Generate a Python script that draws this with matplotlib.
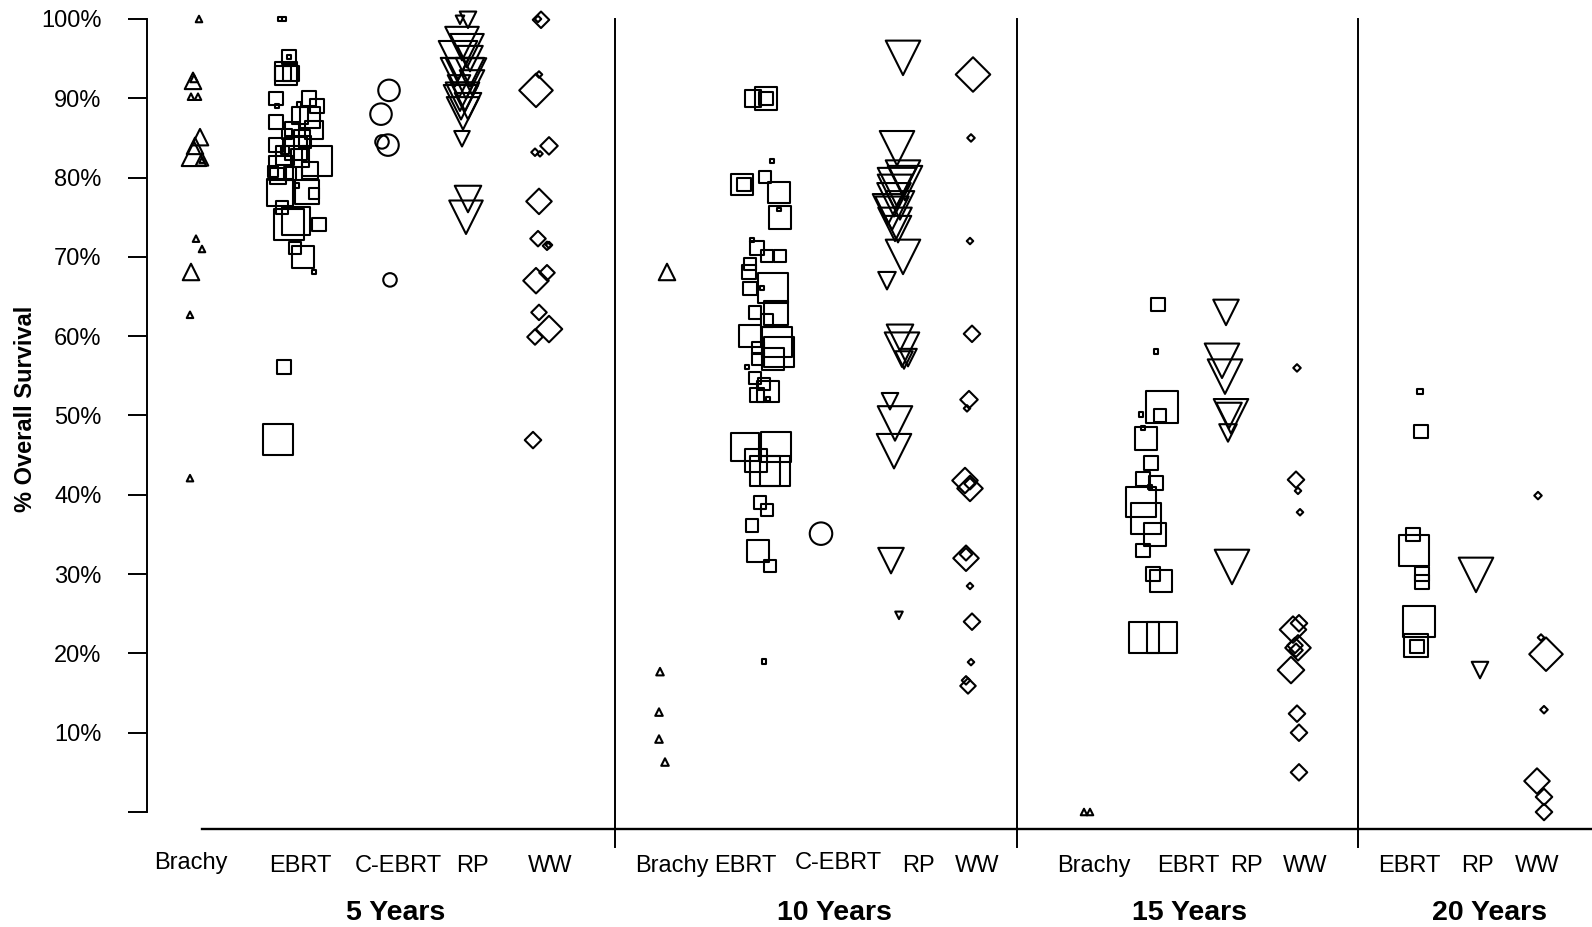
import numpy as np
import matplotlib.pyplot as plt

plt.rcParams['font.family'] = ['Liberation Sans', 'DejaVu Sans']

# ---- survival (%) for each study, grouped by follow-up and treatment ----
surv_5y_brachy = [100, 92.2, 92.5, 90.2, 90.2, 85.1, 84, 83, 82.3, 82.2, 72.3, 71, 68.1, 62.7, 42.1]
surv_5y_ebrt = [100, 100, 95.2, 95.2, 93.1, 93.1, 93.1, 90, 89, 90, 89, 89.2, 87.6, 87, 86.1, 86,
                84.1, 83.7, 85, 85.5, 82.1, 81.2, 80.2, 78.1, 78.2, 78, 76.2, 74.1, 74.5, 74.1,
                71.1, 70, 68.1, 56.1, 47, 82.5, 80.5, 83.5, 84.5, 79,
                82.8, 87.8, 80.8, 80.9]
surv_5y_cebrt = [91, 88, 84.1, 84.5, 67.1]
surv_5y_rp = [99.9, 99.9, 96.9, 96, 95, 93.3, 93.3, 90.2, 90.2, 88.1, 89, 91.5, 92, 84.9, 77.3, 75,
              94.8, 92.5, 89.5]
surv_5y_ww = [99.9, 100, 93, 91, 84, 83.2, 83, 77, 72.3, 71.4, 71.5, 67, 68, 63, 60.9, 59.9, 46.9]

surv_10y_brachy = [68.1, 17.7, 12.6, 9.2, 6.3]
surv_10y_ebrt = [90, 90, 90, 82.1, 79.1, 79.1, 80.1, 78.1, 75, 76, 72.1, 71.1, 70.1, 70.1, 69.1,
                 68.1, 66.1, 66.1, 66, 63, 62.9, 62, 60, 59.3, 58, 58.5, 57.1, 57.1, 56.1, 54.7,
                 54, 53, 52.6, 52.1, 46, 46, 44.3, 43, 43, 39, 38.1, 36.1, 32.9, 31, 19]
surv_10y_cebrt = [35.1]
surv_10y_rp = [95.1, 83.7, 80, 79.3, 78.2, 77.2, 75.5, 74.1, 76.5, 73.5, 70, 67, 59.8, 58.3, 57,
               57.3, 51.8, 49, 45.5, 31.7, 24.8, 76, 78.8]
surv_10y_ww = [93, 85, 72, 60.3, 52, 50.9, 41.8, 40.8, 41.4, 32, 32.5, 28.5, 24, 18.9, 15.9, 16.6]

surv_15y_brachy = [0, 0]
surv_15y_ebrt = [64, 58.1, 51.1, 50, 50.1, 47.1, 48.4, 44, 42, 41.5, 41, 39.1, 37, 35, 33, 30,
                 29.1, 22, 22]
surv_15y_rp = [63, 56.9, 54.9, 49.9, 50, 47.8, 30.9]
surv_15y_ww = [56, 41.9, 40.5, 37.8, 23.8, 23, 20.7, 21, 17.9, 20.4, 12.4, 10, 5]

surv_20y_ebrt = [53, 48, 35, 33, 30, 29, 24, 21, 20.9]
surv_20y_rp = [29.9, 17.9]
surv_20y_ww = [39.9, 22, 19.9, 12.9, 3.9, 1.9, 0]

# symbol width of each study (px), scaled by study size
size_5y_brachy = [8, 18, 9, 8, 8, 18, 18, 26, 14, 7, 8, 8, 18, 8, 8]
size_5y_ebrt = [6, 6, 15, 5, 24, 17, 17, 15, 6, 16, 15, 6, 22, 15, 15, 20,
                15, 24, 18, 12, 32, 25, 17, 28, 25, 12, 14, 32, 30, 15,
                14, 23, 6, 15, 32, 20, 14, 10, 14, 6,
                20, 18, 12, 18]
size_5y_cebrt = [23, 23, 23, 15, 15]
size_5y_rp = [18, 10, 35, 35, 27, 30, 30, 30, 30, 34, 28, 24, 26, 17, 28, 35,
              40, 42, 36]
size_5y_ww = [18, 8, 8, 35, 19, 9, 7, 27, 17, 10, 8, 27, 17, 17, 28, 17, 18]

size_10y_brachy = [18, 9, 9, 9, 9]
size_10y_ebrt = [18, 24, 15, 5, 23, 15, 14, 23, 24, 5, 5, 15, 13, 14, 14,
                 15, 31, 5, 15, 14, 26, 14, 23, 31, 31, 13, 13, 24, 5, 13,
                 14, 23, 16, 5, 30, 31, 24, 32, 31, 14, 14, 14, 24, 14, 6]
size_10y_cebrt = [24]
size_10y_rp = [36, 36, 36, 36, 36, 35, 35, 35, 30, 28, 36, 19, 28, 36, 19,
               19, 18, 36, 36, 27, 9, 32, 40]
size_10y_ww = [36, 9, 8, 18, 19, 8, 27, 27, 13, 27, 14, 8, 18, 8, 17, 10]

size_15y_brachy = [8, 8]
size_15y_ebrt = [15, 6, 33, 14, 6, 24, 6, 15, 15, 15, 6, 31, 32, 24, 15, 15, 24, 32, 32]
size_15y_rp = [27, 36, 36, 36, 27, 19, 36]
size_15y_ww = [9, 18, 8, 8, 18, 28, 27, 17, 28, 15, 18, 18, 18]

size_20y_ebrt = [7, 15, 15, 32, 15, 15, 33, 25, 15]
size_20y_rp = [36, 18]
size_20y_ww = [9, 8, 35, 9, 27, 18, 18]

# horizontal jitter of each study around its column
jit_5y_brachy = [3, -3, -2, -5, 2, 4, -1, -2, 6, 6, 0, 6, -5, -6, -6]
jit_5y_ebrt = [-16, -12, -7, -7, -10, -13, -5, -20, -19, 13, 21, 3, 14, -20, -4, 18,
               -20, 0, 6, -9, 21, -15, -18, -16, 11, 18, -14, -7, 0, 23,
               -1, 7, 18, -12, -18, 4, -6, -11, 9, 1,
               -11, 4, -23, 14]
jit_5y_cebrt = [2, -6, 1, -5, 3]
jit_5y_rp = [3, -5, -3, 2, 5, -10, 5, -5, 0, -2, 3, -6, 7, -3, 3, 1,
             -7, 1, -4]
jit_5y_ww = [0, -3, -2, -5, 8, -6, -1, -2, -3, 6, 8, -5, 6, -2, 8, -6, -8]

jit_10y_brachy = [5, -2, -3, -3, 3]
jit_10y_ebrt = [-10, 3, 3, 9, -21, -19, 2, 16, 17, 16, -11, -6, 4, 17, -13,
                -14, 10, -1, -13, -8, 13, 4, -13, 14, 16, -5, -5, 10, -16, -8,
                1, 5, -6, 5, -18, 13, -7, 2, 12, -3, 4, -11, -5, 7, 1]
jit_10y_cebrt = [-1]
jit_10y_rp = [5, -1, 5, 7, -3, -4, -6, -3, 2, 0, 5, -11, 2, 4, 6,
              10, -8, -3, -4, -7, 1, -10, -1]
jit_10y_ww = [3, 1, 0, 2, -1, -3, -5, 0, 0, -4, -4, 0, 2, 1, -2, -4]

jit_15y_brachy = [-3, 3]
jit_15y_ebrt = [6, 4, 10, 8, -11, -6, -9, -1, -9, 4, -2, -11, -6, 3, -9, 1, 9, -8, 10]
jit_15y_rp = [-2, -6, -3, 3, 1, 0, 4]
jit_15y_ww = [1, 0, 2, 4, 3, -3, 2, -1, -5, 0, 1, 3, 3]

jit_20y_ebrt = [2, 3, -5, -4, 4, 4, 1, -2, -1]
jit_20y_rp = [-2, 2]
jit_20y_ww = [-3, 0, 5, 3, -4, 3, 3]

# column centres and label positions on the horizontal scale
col_x = {
    ('5y', 'Brachy'): 196, ('5y', 'EBRT'): 296, ('5y', 'C-EBRT'): 387,
    ('5y', 'RP'): 465, ('5y', 'WW'): 541,
    ('10y', 'Brachy'): 662, ('10y', 'EBRT'): 763, ('10y', 'C-EBRT'): 822,
    ('10y', 'RP'): 898, ('10y', 'WW'): 970,
    ('15y', 'Brachy'): 1087, ('15y', 'EBRT'): 1152, ('15y', 'RP'): 1228,
    ('15y', 'WW'): 1296,
    ('20y', 'EBRT'): 1418, ('20y', 'RP'): 1478, ('20y', 'WW'): 1541,
}
cat_labels = ['Brachy', 'EBRT', 'C-EBRT', 'RP', 'WW',
              'Brachy', 'EBRT', 'C-EBRT', 'RP', 'WW',
              'Brachy', 'EBRT', 'RP', 'WW',
              'EBRT', 'RP', 'WW']
cat_label_x = [191, 300, 398, 472, 550, 672, 745, 838, 918, 977,
               1094, 1188, 1246, 1305, 1409, 1477, 1537]
cat_label_y = [-6.4, -6.8, -6.8, -6.8, -6.8, -6.8, -6.8, -6.4, -6.8, -6.8,
               -6.8, -6.8, -6.8, -6.8, -6.8, -6.8, -6.8]
period_labels = ['5 Years', '10 Years', '15 Years', '20 Years']
period_label_x = [396, 834, 1190, 1489]
divider_x = [615, 1017, 1358]

markers = {'Brachy': '^', 'EBRT': 's', 'C-EBRT': 'o', 'RP': 'v', 'WW': 'D'}

series = [
    ('5y', 'Brachy', surv_5y_brachy, size_5y_brachy, jit_5y_brachy),
    ('5y', 'EBRT', surv_5y_ebrt, size_5y_ebrt, jit_5y_ebrt),
    ('5y', 'C-EBRT', surv_5y_cebrt, size_5y_cebrt, jit_5y_cebrt),
    ('5y', 'RP', surv_5y_rp, size_5y_rp, jit_5y_rp),
    ('5y', 'WW', surv_5y_ww, size_5y_ww, jit_5y_ww),
    ('10y', 'Brachy', surv_10y_brachy, size_10y_brachy, jit_10y_brachy),
    ('10y', 'EBRT', surv_10y_ebrt, size_10y_ebrt, jit_10y_ebrt),
    ('10y', 'C-EBRT', surv_10y_cebrt, size_10y_cebrt, jit_10y_cebrt),
    ('10y', 'RP', surv_10y_rp, size_10y_rp, jit_10y_rp),
    ('10y', 'WW', surv_10y_ww, size_10y_ww, jit_10y_ww),
    ('15y', 'Brachy', surv_15y_brachy, size_15y_brachy, jit_15y_brachy),
    ('15y', 'EBRT', surv_15y_ebrt, size_15y_ebrt, jit_15y_ebrt),
    ('15y', 'RP', surv_15y_rp, size_15y_rp, jit_15y_rp),
    ('15y', 'WW', surv_15y_ww, size_15y_ww, jit_15y_ww),
    ('20y', 'EBRT', surv_20y_ebrt, size_20y_ebrt, jit_20y_ebrt),
    ('20y', 'RP', surv_20y_rp, size_20y_rp, jit_20y_rp),
    ('20y', 'WW', surv_20y_ww, size_20y_ww, jit_20y_ww),
]

W, H, DPI = 1592, 927, 100
fig = plt.figure(figsize=(W / DPI, H / DPI), dpi=DPI)
ax = fig.add_axes([147 / W, 1 - 812 / H, (W - 147) / W, (812 - 19) / H])
ax.set_xlim(147, W)
ax.set_ylim(0, 100)

px2pt = 72.0 / DPI
for period, trt, surv, size, jit in series:
    xs = col_x[(period, trt)] + np.array(jit)
    w = np.maximum(np.array(size) - 1.5, 3) * px2pt
    if trt == 'WW':
        w = w / np.sqrt(2)  # 'D' is a rotated square, width is its diagonal
    ax.scatter(xs, surv, s=w ** 2, marker=markers[trt], facecolors='none',
               edgecolors='black', linewidths=1.5, clip_on=False, zorder=3)

# period dividers and the baseline
for xd in divider_x:
    ax.plot([xd, xd], [100, -4.4], color='black', lw=1.4, clip_on=False)
ax.plot([202, W], [-2.14, -2.14], color='black', lw=1.7, clip_on=False)

for lab, xl, yl in zip(cat_labels, cat_label_x, cat_label_y):
    ax.text(xl, yl, lab, ha='center', va='center', fontsize=17)
for lab, xl in zip(period_labels, period_label_x):
    ax.text(xl, -12.7, lab, ha='center', va='center', fontsize=20.5, fontweight='bold')

for side in ['top', 'right', 'bottom']:
    ax.spines[side].set_visible(False)
ax.spines['left'].set_linewidth(1.4)
ax.set_xticks([])
yt = np.arange(0, 101, 10)
ax.set_yticks(yt)
ax.set_yticklabels([''] + ['%d%%' % v for v in yt[1:]], fontsize=17)
ax.tick_params(axis='y', length=13.7, width=1.4, pad=19)
fig.text(25.5 / W, 1 - 409 / H, '% Overall Survival', rotation=90, ha='center',
         va='center', fontsize=17, fontweight='bold')

fig.savefig('out.png', dpi=DPI)
